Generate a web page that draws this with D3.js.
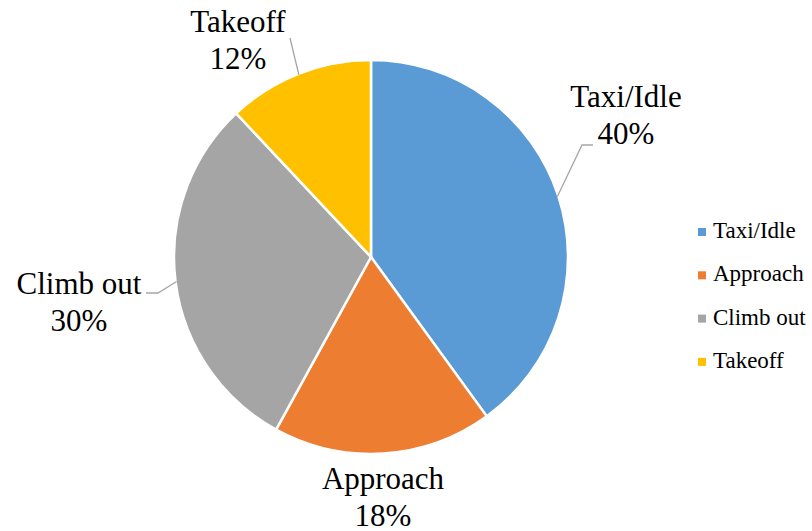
<!DOCTYPE html>
<html>
<head>
<meta charset="utf-8">
<script src="https://cdn.jsdelivr.net/npm/d3@7"></script>
</head>
<body style="margin:0">
<svg id="phase-pie" width="812" height="531"></svg>
<script>
// Share of time in each flight phase
const phases = ["Taxi/Idle", "Approach", "Climb out", "Takeoff"];
const shares = [40, 18, 30, 12];
const colors = ["#5B9BD5", "#ED7D31", "#A5A5A5", "#FFC000"];

// Label placement relative to the pie centre (label anchor, optional leader elbow and end)
const labelLayout = [
  { dx: 255, dy: -150, elbow: [211, -112], end: [222, -112] },
  { dx: 12, dy: 232, elbow: null, end: null },
  { dx: -292, dy: 37, elbow: [-213, 36], end: [-225, 36] },
  { dx: -133, dy: -225, elbow: [-81, -219], end: null }
];

const SERIF = "'Liberation Serif', 'Times New Roman', serif";
const cx = 371, cy = 257, radius = 197;
const labelSize = 31, lineGap = 37;

const svg = d3.select("#phase-pie");
const data = phases.map((p, i) => ({ phase: p, value: shares[i], color: colors[i], layout: labelLayout[i] }));

const pie = d3.pie().value(d => d.value).sort(null);
const arc = d3.arc().innerRadius(0).outerRadius(radius);
const arcs = pie(data);

const g = svg.append("g").attr("transform", `translate(${cx},${cy})`);

g.selectAll("path.slice")
  .data(arcs)
  .join("path")
  .attr("class", "slice")
  .attr("d", arc)
  .attr("fill", d => d.data.color)
  .attr("stroke", "#fff")
  .attr("stroke-width", 2.5)
  .attr("stroke-linejoin", "round");

// Leader lines start on the rim at each slice's mid-angle
const rimPoint = d => {
  const a = (d.startAngle + d.endAngle) / 2;
  return [Math.sin(a) * (radius - 1), -Math.cos(a) * (radius - 1)];
};

g.selectAll("path.leader")
  .data(arcs.filter(d => d.data.layout.elbow))
  .join("path")
  .attr("class", "leader")
  .attr("fill", "none")
  .attr("stroke", "#A6A6A6")
  .attr("stroke-width", 1.3)
  .attr("d", d => {
    const pts = [rimPoint(d), d.data.layout.elbow];
    if (d.data.layout.end) pts.push(d.data.layout.end);
    return d3.line()(pts);
  });

// Two-line data labels: phase name over percentage
arcs.forEach(d => {
  const t = g.append("text")
    .attr("text-anchor", "middle")
    .style("font-family", SERIF, "important")
    .style("font-size", labelSize + "px")
    .attr("fill", "#000")
    .attr("transform", `translate(${d.data.layout.dx},${d.data.layout.dy})`);
  t.append("tspan").attr("x", 0).attr("y", 0).text(d.data.phase);
  t.append("tspan").attr("x", 0).attr("y", lineGap).text(d.data.value + "%");
});

// Legend
const legend = svg.append("g").attr("transform", "translate(698,238)");
const rowGap = 43.3;
data.forEach((d, i) => {
  const row = legend.append("g").attr("transform", `translate(0,${i * rowGap})`);
  row.append("rect")
    .attr("x", 0).attr("y", -10)
    .attr("width", 8).attr("height", 8)
    .attr("fill", d.color);
  row.append("text")
    .attr("x", 15).attr("y", 0)
    .style("font-family", SERIF, "important")
    .style("font-size", "23px")
    .attr("fill", "#000")
    .text(d.phase);
});
</script>
</body>
</html>
